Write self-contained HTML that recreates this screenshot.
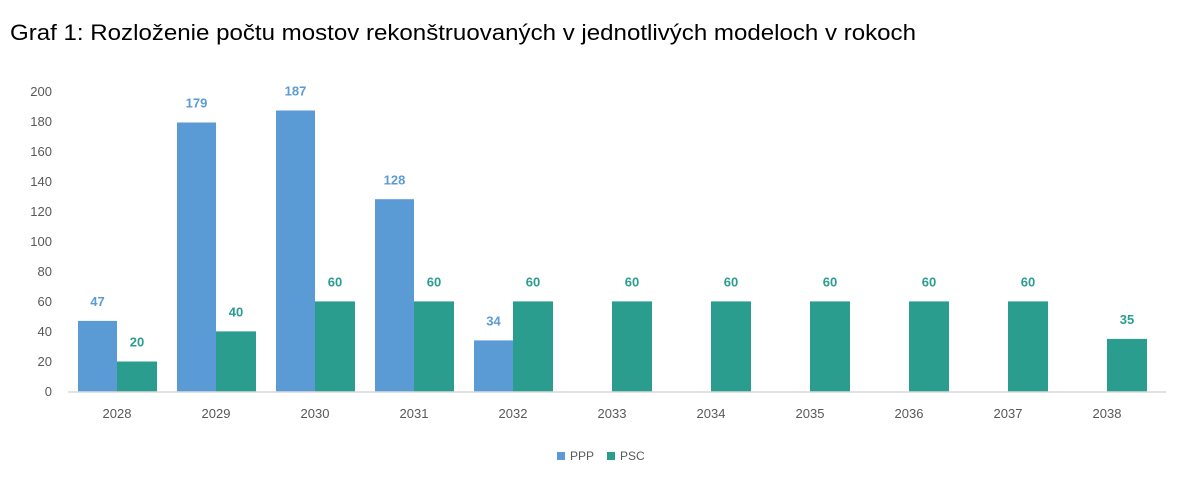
<!DOCTYPE html>
<html><head><meta charset="utf-8"><style>body{margin:0;background:#fff}</style></head>
<body>
<svg width="1186" height="496" xmlns="http://www.w3.org/2000/svg" font-family="Liberation Sans, sans-serif">
<rect width="1186" height="496" fill="#fff"/>
<text x="10" y="40" font-size="22" fill="#000" textLength="906" lengthAdjust="spacingAndGlyphs">Graf 1: Rozloženie počtu mostov rekonštruovaných v jednotlivých modeloch v rokoch</text>
<g font-size="13" fill="#595959" text-anchor="end">
<text x="52" y="396">0</text><text x="52" y="366">20</text><text x="52" y="336">40</text><text x="52" y="306">60</text><text x="52" y="276">80</text><text x="52" y="246">100</text><text x="52" y="216">120</text><text x="52" y="186">140</text><text x="52" y="156">160</text><text x="52" y="126">180</text><text x="52" y="96">200</text>
</g>
<g fill="#5B9BD5">
<rect x="78" y="320.9" width="39" height="70.6"/>
<rect x="177" y="122.5" width="39" height="269"/>
<rect x="276" y="110.5" width="39" height="281"/>
<rect x="375" y="199.2" width="39" height="192.3"/>
<rect x="474" y="340.4" width="39" height="51.1"/>
</g>
<g fill="#2A9D8F">
<rect x="117" y="361.5" width="40" height="30"/>
<rect x="216" y="331.4" width="40" height="60.1"/>
<rect x="315" y="301.4" width="40" height="90.1"/>
<rect x="414" y="301.4" width="40" height="90.1"/>
<rect x="513" y="301.4" width="40" height="90.1"/>
<rect x="612" y="301.4" width="40" height="90.1"/>
<rect x="711" y="301.4" width="40" height="90.1"/>
<rect x="810" y="301.4" width="40" height="90.1"/>
<rect x="909" y="301.4" width="40" height="90.1"/>
<rect x="1008" y="301.4" width="40" height="90.1"/>
<rect x="1107" y="338.9" width="40" height="52.6"/>
</g>
<g font-size="13" font-weight="bold" fill="#5B9BD5" text-anchor="middle">
<text x="97.5" y="306">47</text><text x="196.5" y="107.5">179</text><text x="295.5" y="95.5">187</text><text x="394.5" y="184.5">128</text><text x="493.5" y="325.5">34</text>
</g>
<g font-size="13" font-weight="bold" fill="#2A9D8F" text-anchor="middle">
<text x="137" y="346.5">20</text><text x="236" y="316.5">40</text><text x="335" y="286.5">60</text><text x="434" y="286.5">60</text><text x="533" y="286.5">60</text><text x="632" y="286.5">60</text><text x="731" y="286.5">60</text><text x="830" y="286.5">60</text><text x="929" y="286.5">60</text><text x="1028" y="286.5">60</text><text x="1127" y="324">35</text>
</g>
<line x1="68" y1="392" x2="1166" y2="392" stroke="#d9d9d9" stroke-width="1.5"/>
<g font-size="13" fill="#595959" text-anchor="middle">
<text x="117" y="418">2028</text><text x="216" y="418">2029</text><text x="315" y="418">2030</text><text x="414" y="418">2031</text><text x="513" y="418">2032</text><text x="612" y="418">2033</text><text x="711" y="418">2034</text><text x="810" y="418">2035</text><text x="909" y="418">2036</text><text x="1008" y="418">2037</text><text x="1107" y="418">2038</text>
</g>
<rect x="557" y="452" width="8" height="8" fill="#5B9BD5"/>
<text x="570" y="460" font-size="12" fill="#595959">PPP</text>
<rect x="607" y="452" width="8" height="8" fill="#2A9D8F"/>
<text x="620" y="460" font-size="12" fill="#595959">PSC</text>
</svg>
</body></html>
